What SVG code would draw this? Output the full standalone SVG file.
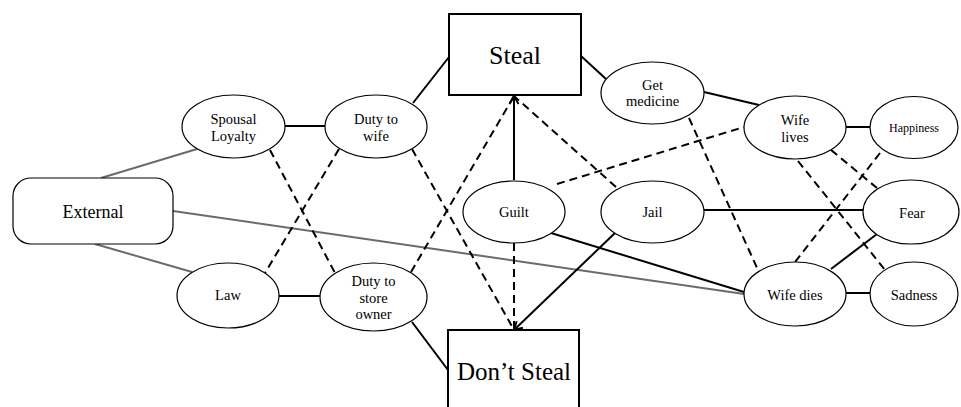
<svg xmlns="http://www.w3.org/2000/svg" width="961" height="407" viewBox="0 0 961 407">
<style>
.n ellipse{fill:#fff;stroke:#000;stroke-width:1.2}
.box{fill:#fff;stroke:#000;stroke-width:2}
text{font-family:"Liberation Serif","Times New Roman",serif;fill:#000;text-anchor:middle}
.t{font-size:14.5px}
.s{stroke:#000;stroke-width:2;fill:none}
.g{stroke:#6b6b6b;stroke-width:2;fill:none}
.d{stroke:#000;stroke-width:2;fill:none;stroke-dasharray:8 5}
</style>
<defs>
<marker id="arr" markerUnits="userSpaceOnUse" markerWidth="12" markerHeight="12" refX="9" refY="5" orient="auto">
<path d="M1,0.5 L9,5 L1,9.5" fill="none" stroke="#000" stroke-width="2"/>
</marker>
</defs>
<rect width="961" height="407" fill="#fff"/>
<g id="connectors">
<line class="g" x1="101" y1="178" x2="197" y2="149"/>
<line class="g" x1="95" y1="244" x2="192" y2="272"/>
<line class="g" x1="173" y1="211" x2="744" y2="294"/>
<line class="s" x1="285" y1="126" x2="325" y2="126"/>
<line class="s" x1="413" y1="103" x2="449" y2="57"/>
<line class="s" x1="581" y1="56" x2="606" y2="79"/>
<line class="s" x1="704" y1="92" x2="759" y2="105"/>
<line class="s" x1="846" y1="127" x2="870" y2="127"/>
<line class="s" x1="514" y1="180" x2="514" y2="96" marker-end="url(#arr)"/>
<line class="s" x1="704" y1="210" x2="863" y2="210"/>
<line class="s" x1="551" y1="233" x2="744" y2="292"/>
<line class="s" x1="615" y1="233" x2="514" y2="330" marker-end="url(#arr)"/>
<line class="s" x1="831" y1="269" x2="877" y2="234"/>
<line class="s" x1="846" y1="293" x2="870" y2="293"/>
<line class="s" x1="279" y1="296" x2="320" y2="296"/>
<line class="s" x1="412" y1="322" x2="448" y2="370"/>
<line class="d" x1="270" y1="150" x2="335" y2="273"/>
<line class="d" x1="339" y1="149" x2="265" y2="273"/>
<line class="d" x1="412" y1="149" x2="514" y2="330"/>
<line class="d" x1="411" y1="272" x2="514" y2="96"/>
<line class="d" x1="514" y1="243" x2="514" y2="330"/>
<line class="d" x1="616" y1="187" x2="514" y2="96"/>
<line class="d" x1="557" y1="184" x2="744" y2="127"/>
<line class="d" x1="689" y1="118" x2="758" y2="270"/>
<line class="d" x1="798" y1="161" x2="885" y2="270"/>
<line class="d" x1="831" y1="150" x2="877" y2="188"/>
<line class="d" x1="880" y1="153" x2="795" y2="262"/>
</g>
<g id="steal"><rect class="box" x="449" y="14" width="132" height="81"/><text x="515" y="64" font-size="26">Steal</text></g>
<g id="dontsteal"><rect class="box" x="448" y="330" width="131" height="100"/><text x="514" y="380" font-size="25">Don’t Steal</text></g>
<g id="external"><rect x="13" y="178" width="160" height="66" rx="18" fill="#fff" stroke="#000" stroke-width="1.2"/><text x="93" y="218" font-size="18">External</text></g>
<g id="spousal" class="n"><ellipse cx="233.5" cy="126.5" rx="51.5" ry="31.5"/><text class="t" x="233.5" y="124">Spousal</text><text class="t" x="233.5" y="141">Loyalty</text></g>
<g id="dutywife" class="n"><ellipse cx="376" cy="126.5" rx="51" ry="31.5"/><text class="t" x="376" y="124">Duty to</text><text class="t" x="376" y="141">wife</text></g>
<g id="law" class="n"><ellipse cx="228" cy="295.5" rx="51" ry="32.5"/><text class="t" x="228" y="300">Law</text></g>
<g id="dutystore" class="n"><ellipse cx="373.5" cy="297" rx="53.5" ry="34"/><text class="t" x="373.5" y="286">Duty to</text><text class="t" x="373.5" y="303">store</text><text class="t" x="373.5" y="319">owner</text></g>
<g id="guilt" class="n"><ellipse cx="514" cy="212" rx="51" ry="31"/><text class="t" x="514" y="217">Guilt</text></g>
<g id="jail" class="n"><ellipse cx="652.5" cy="212" rx="51.5" ry="31"/><text class="t" x="652.5" y="217">Jail</text></g>
<g id="getmedicine" class="n"><ellipse cx="652.5" cy="93" rx="51.5" ry="31"/><text class="t" x="652.5" y="90">Get</text><text class="t" x="652.5" y="106">medicine</text></g>
<g id="wifelives" class="n"><ellipse cx="795" cy="127.5" rx="51" ry="31.5"/><text class="t" x="795" y="125">Wife</text><text class="t" x="795" y="142">lives</text></g>
<g id="happiness" class="n"><ellipse cx="914" cy="127.5" rx="44" ry="31"/><text x="914" y="132" font-size="12">Happiness</text></g>
<g id="fear" class="n"><ellipse cx="911" cy="212" rx="48" ry="32"/><text class="t" x="912" y="218">Fear</text></g>
<g id="wifedies" class="n"><ellipse cx="795" cy="294" rx="51" ry="32"/><text class="t" x="795" y="300">Wife dies</text></g>
<g id="sadness" class="n"><ellipse cx="914" cy="294" rx="44" ry="32"/><text class="t" x="914" y="300">Sadness</text></g>
</svg>
